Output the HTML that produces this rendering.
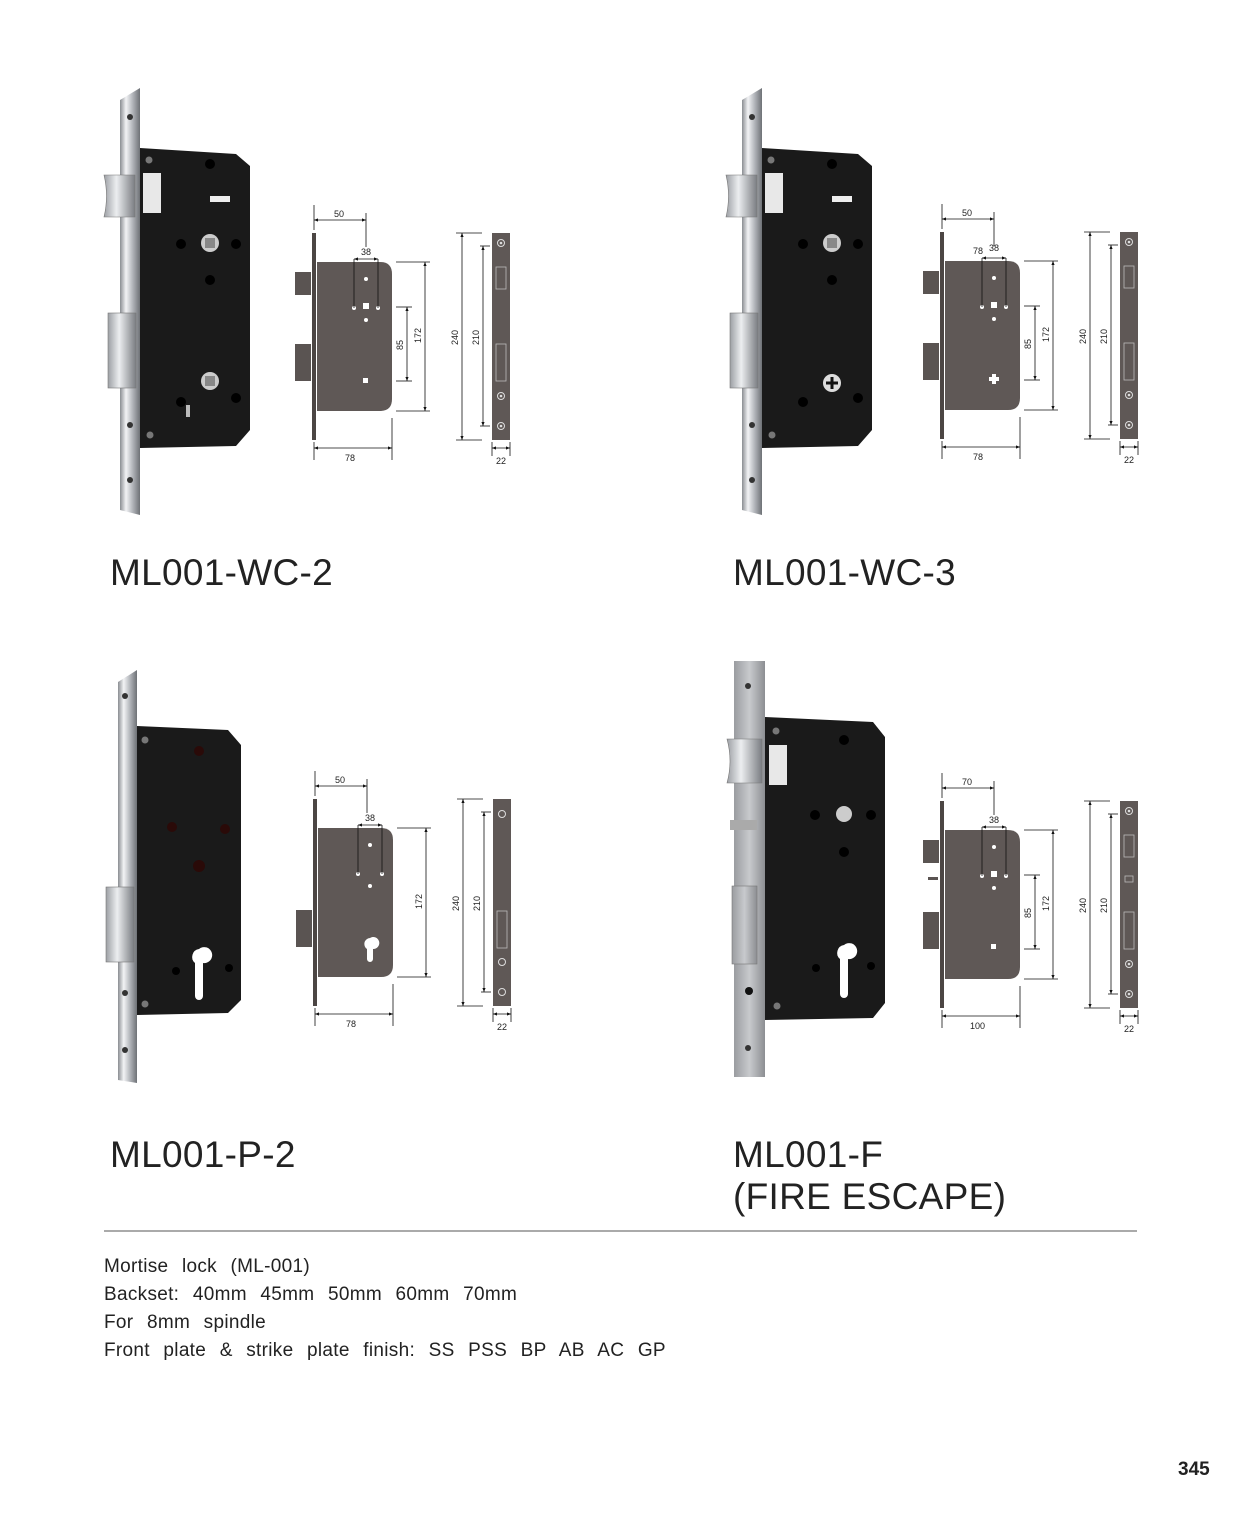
<!DOCTYPE html>
<html><head><meta charset="utf-8"><style>
html,body{margin:0;padding:0;background:#fff}
svg{display:block}
.t{font-family:"Liberation Sans",sans-serif}
.d{font-family:"Liberation Sans",sans-serif;font-size:9px;fill:#222}
.ttl{font-family:"Liberation Sans",sans-serif;font-size:37px;fill:#222;letter-spacing:0.3px}
.body{font-family:"Liberation Sans",sans-serif;font-size:19px;fill:#222;letter-spacing:0.3px;word-spacing:8px}
</style></head><body>
<svg width="1240" height="1535" viewBox="0 0 1240 1535" xmlns="http://www.w3.org/2000/svg">
<defs>
<linearGradient id="fp" x1="0" x2="1" y1="0" y2="0">
<stop offset="0" stop-color="#8a8d92"/><stop offset="0.3" stop-color="#f2f3f5"/><stop offset="0.6" stop-color="#b8bbc0"/><stop offset="1" stop-color="#6e7176"/></linearGradient>
<linearGradient id="fp2" x1="0" x2="1"><stop offset="0" stop-color="#9a9ca0"/><stop offset="0.5" stop-color="#c8cacd"/><stop offset="1" stop-color="#8c8e92"/></linearGradient>
<linearGradient id="bolt" x1="0" x2="1"><stop offset="0" stop-color="#9c9fa4"/><stop offset="0.4" stop-color="#eceef0"/><stop offset="1" stop-color="#7a7d82"/></linearGradient>
<marker id="a" viewBox="0 0 10 10" refX="10" refY="5" markerWidth="5" markerHeight="5" orient="auto-start-reverse"><path d="M0 1 L10 5 L0 9Z" fill="#111"/></marker>
<g id="strike">
<rect x="0" y="0" width="18" height="207" fill="#5f5856"/>
<circle cx="9" cy="10" r="3.5" fill="none" stroke="#ddd" stroke-width="1"/><circle cx="9" cy="10" r="1.3" fill="#ddd"/>
<rect x="4" y="34" width="10" height="22" fill="none" stroke="#bbb" stroke-width="0.8"/>
<rect x="4" y="111" width="10" height="37" fill="none" stroke="#bbb" stroke-width="0.8"/>
<circle cx="9" cy="163" r="3.5" fill="none" stroke="#ddd" stroke-width="1"/><circle cx="9" cy="163" r="1.3" fill="#ddd"/>
<circle cx="9" cy="193" r="3.5" fill="none" stroke="#ddd" stroke-width="1"/><circle cx="9" cy="193" r="1.3" fill="#ddd"/>
</g>
<g id="dims" stroke="#111" stroke-width="0.8" fill="none">
<line x1="314" y1="205" x2="314" y2="230"/>
<line x1="366" y1="213" x2="366" y2="247"/>
<line x1="314" y1="220" x2="366" y2="220" marker-start="url(#a)" marker-end="url(#a)"/>
<line x1="354" y1="259" x2="354" y2="308"/><line x1="378" y1="259" x2="378" y2="308"/>
<line x1="354" y1="259" x2="378" y2="259" marker-start="url(#a)" marker-end="url(#a)"/>
<line x1="396" y1="262" x2="430" y2="262"/><line x1="396" y1="411" x2="430" y2="411"/>
<line x1="425" y1="262" x2="425" y2="411" marker-start="url(#a)" marker-end="url(#a)"/>
<line x1="314" y1="442" x2="314" y2="460"/><line x1="392" y1="418" x2="392" y2="460"/>
<line x1="314" y1="448" x2="392" y2="448" marker-start="url(#a)" marker-end="url(#a)"/>
<line x1="456" y1="233" x2="482" y2="233"/><line x1="456" y1="440" x2="482" y2="440"/>
<line x1="462" y1="233" x2="462" y2="440" marker-start="url(#a)" marker-end="url(#a)"/>
<line x1="480" y1="246" x2="490" y2="246"/><line x1="480" y1="426" x2="490" y2="426"/>
<line x1="483" y1="246" x2="483" y2="426" marker-start="url(#a)" marker-end="url(#a)"/>
<line x1="492" y1="442" x2="492" y2="456"/><line x1="510" y1="442" x2="510" y2="456"/>
<line x1="492" y1="448" x2="510" y2="448" marker-start="url(#a)" marker-end="url(#a)"/>
</g>
<g id="case">
<rect x="312" y="233" width="4" height="207" fill="#4c4644"/>
<path d="M317 262 H380 Q392 262 392 274 V399 Q392 411 380 411 H317Z" fill="#5f5856"/>
</g>
<g id="lock">
<path d="M120 100 L140 88 V515 L120 510Z" fill="url(#fp)"/>
<circle cx="130" cy="117" r="3" fill="#333"/><circle cx="130" cy="425" r="3" fill="#333"/><circle cx="130" cy="480" r="3" fill="#333"/>
<path d="M140 148 L236 154 L250 166 V430 L236 446 L140 448Z" fill="#1a1a1a"/>
<circle cx="149" cy="160" r="3.5" fill="#777"/><circle cx="150" cy="435" r="3.5" fill="#777"/>
<circle cx="210" cy="164" r="5" fill="#000"/><circle cx="181" cy="244" r="5" fill="#000"/><circle cx="236" cy="244" r="5" fill="#000"/><circle cx="210" cy="280" r="5" fill="#000"/>
<circle cx="181" cy="402" r="5" fill="#000"/><circle cx="236" cy="398" r="5" fill="#000"/>
<rect x="143" y="173" width="18" height="40" fill="#e8e8e8"/>
<rect x="210" y="196" width="20" height="6" fill="#eee"/>
</g>
<g id="latch">
<path d="M104 175 H135 V217 H104 Q109 196 104 175Z" fill="url(#bolt)" stroke="#777" stroke-width="0.6"/>
<rect x="108" y="313" width="28" height="75" fill="url(#bolt)" stroke="#777" stroke-width="0.6"/>
</g>
</defs>

<use href="#lock"/><use href="#latch"/>
<circle cx="210" cy="243" r="9" fill="#ccc"/><rect x="205" y="238" width="10" height="10" fill="#888"/>
<circle cx="210" cy="381" r="9" fill="#ccc"/><rect x="205" y="376" width="10" height="10" fill="#888"/>
<rect x="186" y="405" width="4" height="12" fill="#bbb"/>
<use href="#case"/>
<rect x="295" y="272" width="16" height="23" fill="#5a5452"/><rect x="295" y="344" width="16" height="37" fill="#5a5452"/>
<g fill="#fff"><circle cx="366" cy="279" r="2"/><circle cx="354" cy="308" r="2"/><circle cx="378" cy="308" r="2"/><rect x="363" y="303" width="6" height="6"/><circle cx="366" cy="320" r="2"/><rect x="363" y="378" width="5" height="5"/></g>
<use href="#dims"/>
<line x1="396" y1="307" x2="412" y2="307" stroke="#111" stroke-width="0.8"/><line x1="396" y1="381" x2="412" y2="381" stroke="#111" stroke-width="0.8"/>
<line x1="407" y1="307" x2="407" y2="381" stroke="#111" stroke-width="0.8" marker-start="url(#a)" marker-end="url(#a)"/>
<use href="#strike" x="492" y="233"/>
<text class="d" x="334" y="217">50</text><text class="d" x="361" y="255">38</text>
<text class="d" transform="translate(403 350) rotate(-90)">85</text><text class="d" transform="translate(421 343) rotate(-90)">172</text>
<text class="d" transform="translate(458 345) rotate(-90)">240</text><text class="d" transform="translate(479 345) rotate(-90)">210</text>
<text class="d" x="345" y="461">78</text><text class="d" x="496" y="464">22</text>
<text class="ttl" x="110" y="585">ML001-WC-2</text>

<g transform="translate(622 0)">
<use href="#lock"/><use href="#latch"/>
<circle cx="210" cy="243" r="9" fill="#ccc"/><rect x="205" y="238" width="10" height="10" fill="#888"/>
<circle cx="210" cy="383" r="9" fill="#ddd"/><path d="M210 377 V389 M204 383 H216" stroke="#111" stroke-width="3"/>
</g>
<g transform="translate(628 -1)">
<use href="#case"/>
<rect x="295" y="272" width="16" height="23" fill="#5a5452"/><rect x="295" y="344" width="16" height="37" fill="#5a5452"/>
<g fill="#fff"><circle cx="366" cy="279" r="2"/><circle cx="354" cy="308" r="2"/><circle cx="378" cy="308" r="2"/><rect x="363" y="303" width="6" height="6"/><circle cx="366" cy="320" r="2"/><path d="M364 375 h4 v3 h3 v4 h-3 v3 h-4 v-3 h-3 v-4 h3z"/></g>
<use href="#dims"/>
<line x1="396" y1="307" x2="412" y2="307" stroke="#111" stroke-width="0.8"/><line x1="396" y1="381" x2="412" y2="381" stroke="#111" stroke-width="0.8"/>
<line x1="407" y1="307" x2="407" y2="381" stroke="#111" stroke-width="0.8" marker-start="url(#a)" marker-end="url(#a)"/>
<use href="#strike" x="492" y="233"/>
<text class="d" x="334" y="217">50</text><text class="d" x="345" y="255">78</text><text class="d" x="361" y="252">38</text>
<text class="d" transform="translate(403 350) rotate(-90)">85</text><text class="d" transform="translate(421 343) rotate(-90)">172</text>
<text class="d" transform="translate(458 345) rotate(-90)">240</text><text class="d" transform="translate(479 345) rotate(-90)">210</text>
<text class="d" x="345" y="461">78</text><text class="d" x="496" y="464">22</text>
</g>
<text class="ttl" x="733" y="585">ML001-WC-3</text>

<g transform="translate(-2 0)">
<path d="M120 682 L139 670 V1083 L120 1080Z" fill="url(#fp)"/>
<circle cx="127" cy="696" r="3" fill="#333"/><circle cx="127" cy="993" r="3" fill="#333"/><circle cx="127" cy="1050" r="3" fill="#333"/>
<path d="M139 726 L230 730 L243 745 V1000 L230 1013 L139 1015Z" fill="#1a1a1a"/>
<circle cx="147" cy="740" r="3.5" fill="#777"/><circle cx="147" cy="1004" r="3.5" fill="#777"/>
<circle cx="201" cy="751" r="5" fill="#2a0a08"/><circle cx="174" cy="827" r="5" fill="#2a0a08"/><circle cx="227" cy="829" r="5" fill="#2a0a08"/><circle cx="201" cy="866" r="6" fill="#2a0a08"/>
<circle cx="178" cy="971" r="4" fill="#000"/><circle cx="231" cy="968" r="4" fill="#000"/>
<path d="M201 949 a8 8 0 1 1 4 14 v33 a4 4 0 0 1 -8 0 v-33 a8 8 0 0 1 4 -14z" fill="#fff"/>
<rect x="108" y="887" width="28" height="75" fill="url(#bolt)" stroke="#777" stroke-width="0.6"/>
</g>
<g transform="translate(1 566)">
<use href="#case"/>
<rect x="295" y="344" width="16" height="37" fill="#5a5452"/>
<g fill="#fff"><circle cx="369" cy="279" r="2"/><circle cx="357" cy="308" r="2"/><circle cx="381" cy="308" r="2"/><circle cx="369" cy="320" r="2"/>
<path d="M369 372 a6 6 0 1 1 3 11 v10 a3 3 0 0 1 -6 0 v-10 a6 6 0 0 1 3 -11z"/></g>
<g stroke="#111" stroke-width="0.8" fill="none">
<line x1="314" y1="205" x2="314" y2="230"/><line x1="366" y1="213" x2="366" y2="247"/>
<line x1="314" y1="220" x2="366" y2="220" marker-start="url(#a)" marker-end="url(#a)"/>
<line x1="357" y1="259" x2="357" y2="308"/><line x1="381" y1="259" x2="381" y2="308"/>
<line x1="357" y1="259" x2="381" y2="259" marker-start="url(#a)" marker-end="url(#a)"/>
<line x1="396" y1="262" x2="430" y2="262"/><line x1="396" y1="411" x2="430" y2="411"/>
<line x1="425" y1="262" x2="425" y2="411" marker-start="url(#a)" marker-end="url(#a)"/>
<line x1="314" y1="442" x2="314" y2="460"/><line x1="392" y1="418" x2="392" y2="460"/>
<line x1="314" y1="448" x2="392" y2="448" marker-start="url(#a)" marker-end="url(#a)"/>
<line x1="456" y1="233" x2="482" y2="233"/><line x1="456" y1="440" x2="482" y2="440"/>
<line x1="462" y1="233" x2="462" y2="440" marker-start="url(#a)" marker-end="url(#a)"/>
<line x1="480" y1="246" x2="490" y2="246"/><line x1="480" y1="426" x2="490" y2="426"/>
<line x1="483" y1="246" x2="483" y2="426" marker-start="url(#a)" marker-end="url(#a)"/>
<line x1="492" y1="442" x2="492" y2="456"/><line x1="510" y1="442" x2="510" y2="456"/>
<line x1="492" y1="448" x2="510" y2="448" marker-start="url(#a)" marker-end="url(#a)"/>
</g>
<rect x="492" y="233" width="18" height="207" fill="#5f5856"/>
<g fill="none" stroke="#ddd"><circle cx="501" cy="248" r="3.5"/><circle cx="501" cy="396" r="3.5"/><circle cx="501" cy="426" r="3.5"/></g>
<rect x="496" y="345" width="10" height="37" fill="none" stroke="#bbb" stroke-width="0.8"/>
<text class="d" x="334" y="217">50</text><text class="d" x="364" y="255">38</text>
<text class="d" transform="translate(421 343) rotate(-90)">172</text>
<text class="d" transform="translate(458 345) rotate(-90)">240</text><text class="d" transform="translate(479 345) rotate(-90)">210</text>
<text class="d" x="345" y="461">78</text><text class="d" x="496" y="464">22</text>
</g>
<text class="ttl" x="110" y="1167">ML001-P-2</text>

<path d="M734 661 H765 V1077 H734Z" fill="url(#fp2)"/>
<circle cx="748" cy="686" r="3" fill="#333"/><circle cx="749" cy="991" r="4" fill="#111"/><circle cx="748" cy="1048" r="3" fill="#333"/>
<path d="M765 717 L873 722 L885 737 V1003 L873 1018 L765 1020Z" fill="#1a1a1a"/>
<circle cx="776" cy="731" r="3.5" fill="#777"/><circle cx="777" cy="1006" r="3.5" fill="#777"/>
<circle cx="844" cy="740" r="5" fill="#000"/><circle cx="815" cy="815" r="5" fill="#000"/><circle cx="871" cy="815" r="5" fill="#000"/><circle cx="844" cy="852" r="5" fill="#000"/>
<circle cx="816" cy="968" r="4" fill="#000"/><circle cx="871" cy="966" r="4" fill="#000"/>
<circle cx="844" cy="814" r="8" fill="#ccc"/>
<rect x="769" y="745" width="18" height="40" fill="#e8e8e8"/>
<path d="M844 945 a8 8 0 1 1 4 14 v35 a4 4 0 0 1 -8 0 v-35 a8 8 0 0 1 4 -14z" fill="#fff"/>
<path d="M727 739 H762 V783 H727 Q733 761 727 739Z" fill="url(#bolt)" stroke="#777" stroke-width="0.6"/>
<rect x="730" y="820" width="27" height="10" fill="#aaa"/>
<rect x="732" y="886" width="25" height="78" fill="url(#fp2)" stroke="#777" stroke-width="0.6"/>
<g transform="translate(628 568)">
<rect x="312" y="233" width="4" height="207" fill="#4c4644"/>
<path d="M317 262 H380 Q392 262 392 274 V399 Q392 411 380 411 H317Z" fill="#5f5856"/>
<rect x="295" y="272" width="16" height="23" fill="#5a5452"/><rect x="300" y="309" width="10" height="3" fill="#5a5452"/><rect x="295" y="344" width="16" height="37" fill="#5a5452"/>
<g fill="#fff"><circle cx="366" cy="279" r="2"/><circle cx="354" cy="308" r="2"/><circle cx="378" cy="308" r="2"/><rect x="363" y="303" width="6" height="6"/><circle cx="366" cy="320" r="2"/><rect x="363" y="376" width="5" height="5"/></g>
</g>
<g transform="translate(628 568)" stroke="#111" stroke-width="0.8" fill="none">
<line x1="314" y1="205" x2="314" y2="230"/><line x1="366" y1="213" x2="366" y2="247"/>
<line x1="314" y1="220" x2="366" y2="220" marker-start="url(#a)" marker-end="url(#a)"/>
<line x1="354" y1="259" x2="354" y2="308"/><line x1="378" y1="259" x2="378" y2="308"/>
<line x1="354" y1="259" x2="378" y2="259" marker-start="url(#a)" marker-end="url(#a)"/>
<line x1="396" y1="262" x2="430" y2="262"/><line x1="396" y1="411" x2="430" y2="411"/>
<line x1="425" y1="262" x2="425" y2="411" marker-start="url(#a)" marker-end="url(#a)"/>
<line x1="396" y1="307" x2="412" y2="307"/><line x1="396" y1="381" x2="412" y2="381"/>
<line x1="407" y1="307" x2="407" y2="381" marker-start="url(#a)" marker-end="url(#a)"/>
<line x1="314" y1="442" x2="314" y2="460"/><line x1="392" y1="418" x2="392" y2="460"/>
<line x1="314" y1="448" x2="392" y2="448" marker-start="url(#a)" marker-end="url(#a)"/>
<line x1="456" y1="233" x2="482" y2="233"/><line x1="456" y1="440" x2="482" y2="440"/>
<line x1="462" y1="233" x2="462" y2="440" marker-start="url(#a)" marker-end="url(#a)"/>
<line x1="480" y1="246" x2="490" y2="246"/><line x1="480" y1="426" x2="490" y2="426"/>
<line x1="483" y1="246" x2="483" y2="426" marker-start="url(#a)" marker-end="url(#a)"/>
<line x1="492" y1="442" x2="492" y2="456"/><line x1="510" y1="442" x2="510" y2="456"/>
<line x1="492" y1="448" x2="510" y2="448" marker-start="url(#a)" marker-end="url(#a)"/>
</g>
<g transform="translate(628 568)">
<use href="#strike" x="492" y="233"/>
<rect x="497" y="308" width="8" height="6" fill="none" stroke="#bbb" stroke-width="0.8"/>
<text class="d" x="334" y="217">70</text><text class="d" x="361" y="255">38</text>
<text class="d" transform="translate(403 350) rotate(-90)">85</text><text class="d" transform="translate(421 343) rotate(-90)">172</text>
<text class="d" transform="translate(458 345) rotate(-90)">240</text><text class="d" transform="translate(479 345) rotate(-90)">210</text>
<text class="d" x="342" y="461">100</text><text class="d" x="496" y="464">22</text>
</g>
<text class="ttl" x="733" y="1167">ML001-F</text>
<text class="ttl" x="733" y="1209">(FIRE ESCAPE)</text>

<line x1="104" y1="1231" x2="1137" y2="1231" stroke="#555" stroke-width="1"/>
<text class="body" x="104" y="1272">Mortise lock (ML-001)</text>
<text class="body" x="104" y="1300">Backset: 40mm 45mm 50mm 60mm 70mm</text>
<text class="body" x="104" y="1328">For 8mm spindle</text>
<text class="body" x="104" y="1356">Front plate &amp; strike plate finish: SS PSS BP AB AC GP</text>
<text class="t" x="1178" y="1475" font-size="19" font-weight="bold" fill="#222">345</text>
</svg>
</body></html>
